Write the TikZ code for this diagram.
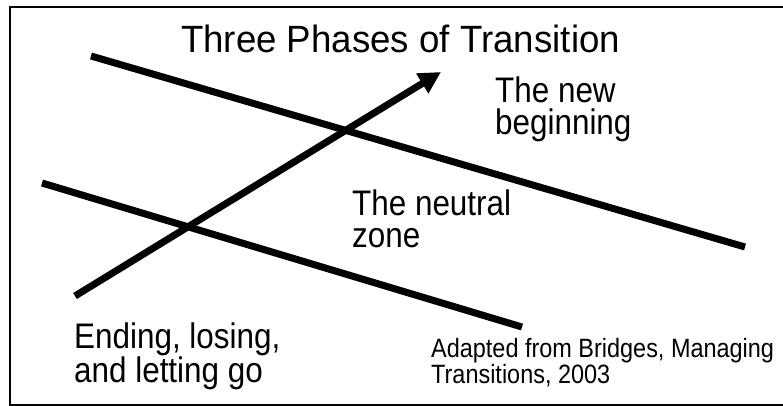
\documentclass[tikz,border=0pt]{standalone}
\usepackage{fontspec}
\setmainfont{Liberation Sans}
\newfontfamily\labelfont[FakeStretch=0.885]{Liberation Sans}
\newfontfamily\titlefont[FakeStretch=0.965]{Liberation Sans}
\usetikzlibrary{arrows.meta}

\begin{document}
\begin{tikzpicture}[x=1pt, y=-1pt,
  phase/.style={line width=7pt},
  phaselabel/.style={anchor=base west, inner sep=0pt, align=left,
    font=\labelfont\fontsize{35.5}{32}\selectfont},
  credit/.style={anchor=base west, inner sep=0pt, align=left,
    font=\labelfont\fontsize{26.5}{22}\selectfont}]
\useasboundingbox (0,0) rectangle (783,406);
\draw[line width=2.5pt] (10,7) rectangle (790,405);
\coordinate (endA) at (42,183);
\coordinate (endB) at (522,327);
\coordinate (newA) at (91,56);
\coordinate (newB) at (745,247);
\coordinate (flowA) at (75,296);
\coordinate (flowB) at (441,72);
\draw[phase] (endA) -- (endB);
\draw[phase] (newA) -- (newB);
\draw[phase, -{Triangle[length=22pt, width=22pt]}] (flowA) -- (flowB);
\node[anchor=base, inner sep=0pt, font=\titlefont\fontsize{38}{44}\selectfont] (title) at (400.5,53) {Three Phases of Transition};
\node[phaselabel] (new) at (495,135) {The new\\beginning};
\node[phaselabel] (neutral) at (352,247) {The neutral\\zone};
\node[phaselabel, font=\labelfont\fontsize{35.5}{29.5}\selectfont] (ending) at (74,382.5) {Ending, losing,\\and letting go};
\node[credit] (source) at (431,383) {Adapted from Bridges, Managing\\Transitions, 2003};
\end{tikzpicture}
\end{document}
